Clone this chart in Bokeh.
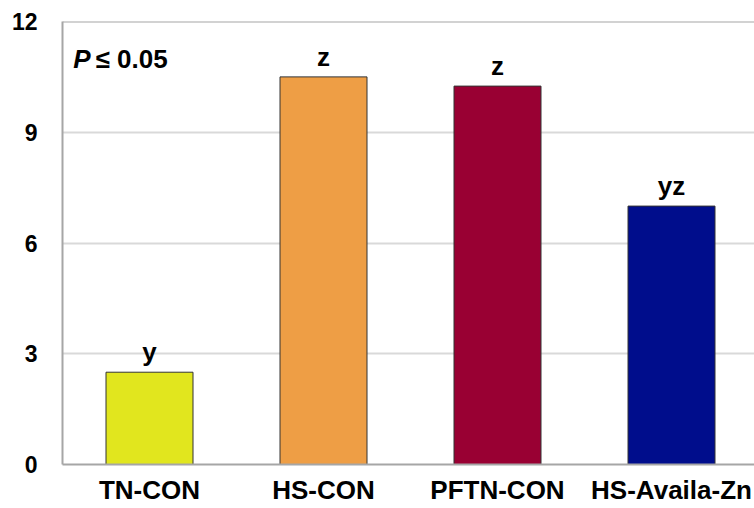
from bokeh.plotting import figure
from bokeh.models import ColumnDataSource, FixedTicker, Span, Label, Range1d
from bokeh.embed import file_html
from bokeh.resources import INLINE
from bokeh.core.properties import value

categories = ["TN-CON", "HS-CON", "PFTN-CON", "HS-Availa-Zn"]
values = [2.5, 10.5, 10.25, 7.0]
letters = ["y", "z", "z", "yz"]
colors = ["#E1E61E", "#EE9E45", "#990033", "#000D8C"]
y_ticks = [0, 3, 6, 9, 12]

xs = list(range(len(categories)))
src = ColumnDataSource(dict(x=xs, top=values, letter=letters, color=colors))

FONT = "Liberation Sans"

p = figure(width=754, height=508, output_backend="svg", toolbar_location=None,
           x_range=Range1d(-0.5, 3.477), y_range=Range1d(0, 12),
           min_border_left=62, min_border_top=21, min_border_bottom=44, min_border_right=0)
p.outline_line_color = None
p.background_fill_color = "white"
p.border_fill_color = "white"

p.vbar(x="x", top="top", width=0.5, bottom=0, source=src, fill_color="color",
       line_color="#333333", line_width=1)

p.text(x="x", y="top", text="letter", source=src, text_align="center",
       text_baseline="middle", y_offset=-20, text_font=value(FONT),
       text_font_style="bold", text_font_size="26px", text_color="black")

p.xaxis.ticker = FixedTicker(ticks=xs)
p.xaxis.major_label_overrides = {i: c for i, c in enumerate(categories)}
p.xaxis.major_tick_line_color = None
p.xaxis.minor_tick_line_color = None
p.xaxis.axis_line_color = "#A6A6A6"
p.xaxis.axis_line_width = 2
p.xaxis.major_label_text_font = FONT
p.xaxis.major_label_text_font_style = "bold"
p.xaxis.major_label_text_font_size = "26px"
p.xaxis.major_label_text_color = "black"
p.xaxis.major_label_standoff = 4

p.yaxis.ticker = FixedTicker(ticks=y_ticks)
p.yaxis.major_tick_line_color = None
p.yaxis.minor_tick_line_color = None
p.yaxis.axis_line_color = "#A6A6A6"
p.yaxis.axis_line_width = 2
p.yaxis.major_label_text_font = FONT
p.yaxis.major_label_text_font_style = "bold"
p.yaxis.major_label_text_font_size = "23px"
p.yaxis.major_label_text_color = "black"
p.yaxis.major_label_standoff = 19

p.xgrid.grid_line_color = None
p.ygrid.ticker = FixedTicker(ticks=y_ticks)
p.ygrid.grid_line_color = "#D9D9D9"
p.ygrid.grid_line_width = 2

p.add_layout(Span(location=12, dimension="width", line_color="#A6A6A6", line_width=2))

p.add_layout(Label(x=-0.4385, y=10.98, text="P", text_font=FONT, text_font_style="bold italic",
                   text_font_size="26px", text_baseline="middle", text_color="black"))
p.add_layout(Label(x=-0.3103, y=10.98, text="≤ 0.05", text_font=FONT, text_font_style="bold",
                   text_font_size="26px", text_baseline="middle", text_color="black"))

open("out.html", "w").write(file_html(p, INLINE))
